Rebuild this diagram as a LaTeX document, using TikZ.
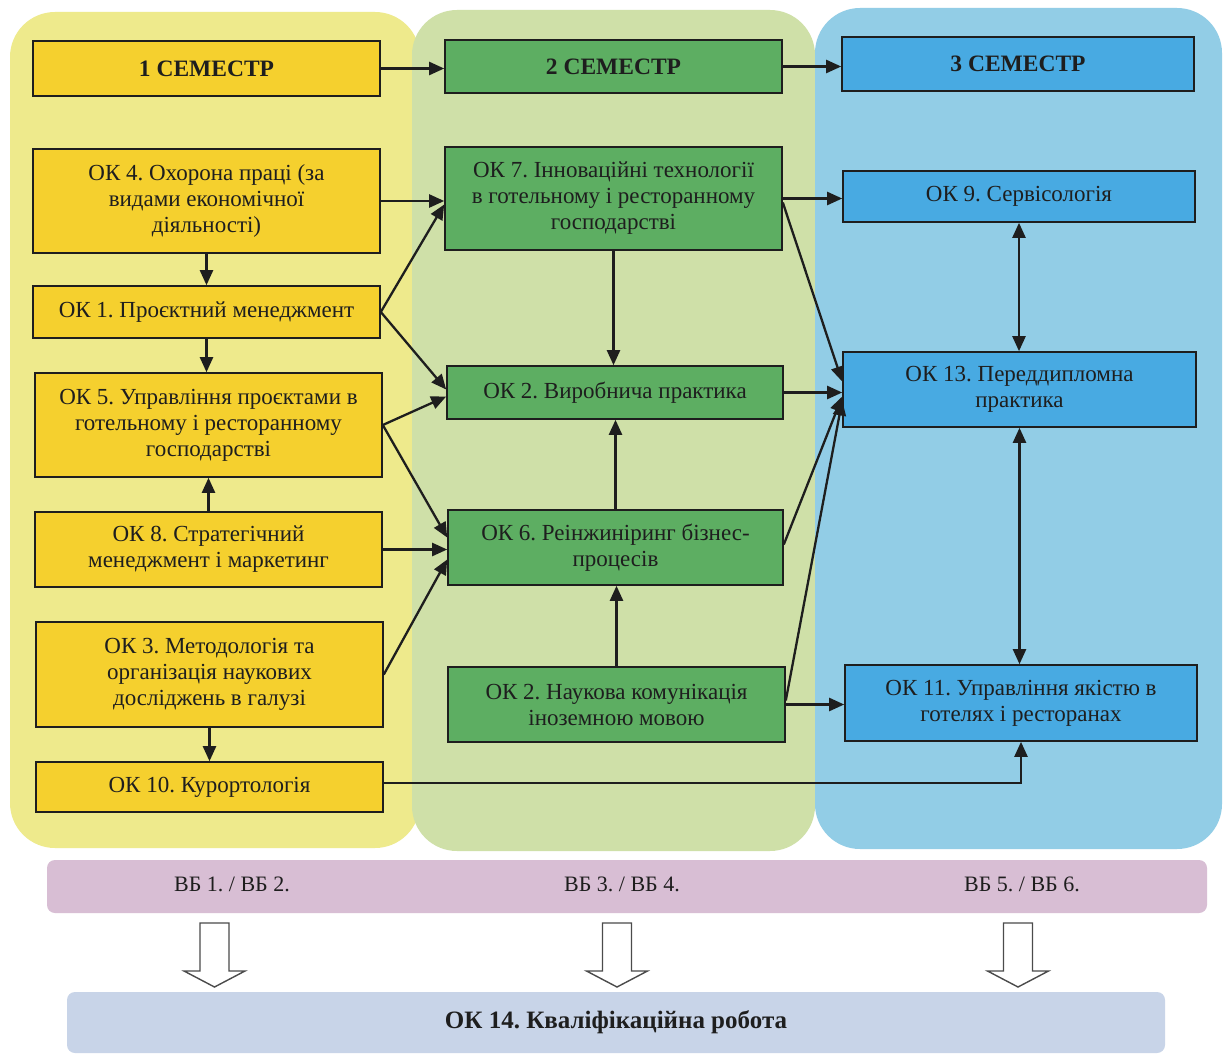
\documentclass[tikz,border=0pt]{standalone}
\usepackage{fontspec}
\setmainfont{Liberation Serif}
\usetikzlibrary{arrows.meta,calc}
\definecolor{boxyellow}{HTML}{F5D02E}
\definecolor{boxgreen}{HTML}{5DAE62}
\definecolor{boxblue}{HTML}{48AAE2}
\definecolor{panyellow}{HTML}{EEEA8C}
\definecolor{pangreen}{HTML}{CFE0A8}
\definecolor{panblue}{HTML}{92CDE6}
\definecolor{bandpurple}{HTML}{D8BED4}
\definecolor{bandblue}{HTML}{C8D4E8}
\definecolor{ink}{HTML}{1E1E1E}
\frenchspacing
\begin{document}
\begin{tikzpicture}[x=1pt,y=-1pt,
  panel/.style={rounded corners=45pt, draw=none},
  box/.style={draw=ink, line width=1.6pt, align=center, inner sep=0pt, text=ink,
    font=\fontsize{23}{26}\selectfont},
  hbox/.style={box, font=\fontsize{23.5}{26}\selectfont\bfseries},
  ybox/.style={fill=boxyellow},
  gbox/.style={fill=boxgreen},
  bbox/.style={fill=boxblue},
  con/.style={line width=2.3pt, draw=ink, -{Triangle[length=15pt,width=13pt]}},
  dcon/.style={line width=2.3pt, draw=ink, {Triangle[length=15pt,width=13pt]}-{Triangle[length=15pt,width=13pt]}},
  band/.style={rounded corners=8pt, draw=none, inner sep=0pt},
  bandtxt/.style={text=ink, font=\fontsize{22}{26}\selectfont},
  hollow/.style={draw=ink!80, line width=1.4pt, fill=white}
]
\useasboundingbox (0,0) rectangle (1232,1057);
\fill[white] (0,0) rectangle (1232,1057);
% panels
\fill[panyellow, panel] (10,12) rectangle (420,848);
\fill[pangreen, panel] (412,10) rectangle (815,851);
\fill[panblue, panel] (815,8) rectangle (1222,849);

% column 1
\node[hbox, ybox, minimum width=347pt, minimum height=55pt] (s1) at (206.5,68.5) {1 СЕМЕСТР};
\node[box, ybox, minimum width=347pt, minimum height=104pt] (ok4) at (206.5,201) {ОК 4. Охорона праці (за\\видами економічної\\діяльності)};
\node[box, ybox, minimum width=347pt, minimum height=52pt] (ok1) at (206.5,312) {ОК 1. Проєктний менеджмент};
\node[box, ybox, minimum width=347pt, minimum height=104pt] (ok5) at (208.5,425) {ОК 5. Управління проєктами в\\готельному і ресторанному\\господарстві};
\node[box, ybox, minimum width=347pt, minimum height=75pt] (ok8) at (208.5,549.5) {ОК 8. Стратегічний\\менеджмент і маркетинг};
\node[box, ybox, minimum width=347pt, minimum height=105pt] (ok3) at (209.5,674.5) {ОК 3. Методологія та\\організація наукових\\досліджень в галузі};
\node[box, ybox, minimum width=347pt, minimum height=50pt] (ok10) at (209.5,787) {ОК 10. Курортологія};

% column 2
\node[hbox, gbox, minimum width=337pt, minimum height=53pt] (s2) at (613.5,66.5) {2 СЕМЕСТР};
\node[box, gbox, minimum width=337pt, minimum height=103pt] (ok7) at (613.5,198.5) {ОК 7. Інноваційні технології\\в готельному і ресторанному\\господарстві};
\node[box, gbox, minimum width=336pt, minimum height=53pt] (ok2a) at (615,392.5) {ОК 2. Виробнича практика};
\node[box, gbox, minimum width=335pt, minimum height=75pt] (ok6) at (615.5,547.5) {ОК 6. Реінжиніринг бізнес-\\процесів};
\node[box, gbox, minimum width=337pt, minimum height=75pt] (ok2b) at (616.5,704.5) {ОК 2. Наукова комунікація\\іноземною мовою};

% column 3
\node[hbox, bbox, minimum width=352pt, minimum height=54pt] (s3) at (1018,64) {3 СЕМЕСТР};
\node[box, bbox, minimum width=352pt, minimum height=51pt] (ok9) at (1019,196.5) {ОК 9. Сервісологія};
\node[box, bbox, minimum width=353pt, minimum height=75pt] (ok13) at (1019.5,389.5) {ОК 13. Переддипломна\\практика};
\node[box, bbox, minimum width=352pt, minimum height=76pt] (ok11) at (1021,703) {ОК 11. Управління якістю в\\готелях і ресторанах};

% connectors
\draw[con] (s1.east) -- (s1.east -| s2.west);
\draw[con] (s2.east) -- (s2.east -| s3.west);
\draw[con] (ok4.south) -- (ok1.north);
\draw[con] (ok1.south) -- (ok1.south |- ok5.north);
\draw[con] (ok8.north) -- (ok8.north |- ok5.south);
\draw[con] (ok3.south) -- (ok10.north);
\draw[con] (ok4.east) -- (ok4.east -| ok7.west);
\draw[con] (ok1.east) -- ($(ok7.west)+(0,6)$);
\draw[con] (ok1.east) -- ($(ok2a.west)+(0,-3)$);
\draw[con] (ok5.east) -- ($(ok2a.west)+(0,4)$);
\draw[con] (ok5.east) -- ($(ok6.west)+(0,-10)$);
\draw[con] (ok8.east) -- (ok8.east -| ok6.west);
\draw[con] (ok3.east) -- ($(ok6.west)+(0,12)$);
\draw[con] (ok7.south) -- (ok7.south |- ok2a.north);
\draw[con] (ok6.north) -- (ok6.north |- ok2a.south);
\draw[con] (ok2b.north) -- (ok2b.north |- ok6.south);
\draw[con] (ok7.east) -- (ok7.east -| ok9.west);
\draw[con] ($(ok7.east)+(0,4)$) -- ($(ok13.west)+(0,-8)$);
\draw[con] (ok2a.east) -- (ok2a.east -| ok13.west);
\draw[con] ($(ok6.east)+(0,-3)$) -- ($(ok13.west)+(0,7)$);
\draw[con] ($(ok2b.east)+(0,-4)$) -- ($(ok13.west)+(0,11)$);
\draw[con] (ok2b.east) -- (ok2b.east -| ok11.west);
\draw[dcon] (ok9.south) -- (ok9.south |- ok13.north);
\draw[dcon] (ok13.south) -- (ok13.south |- ok11.north);
\draw[con] ($(ok10.east)+(0,-4)$) -| (ok11.south);

% bottom bands
\node[band, fill=bandpurple, minimum width=1160pt, minimum height=53pt] (vb) at (627,886.5) {};
\node[bandtxt] (vb12) at (232,884) {ВБ 1. / ВБ 2.};
\node[bandtxt] (vb34) at (622,884) {ВБ 3. / ВБ 4.};
\node[bandtxt] (vb56) at (1022,884) {ВБ 5. / ВБ 6.};
\node[band, fill=bandblue, minimum width=1098pt, minimum height=61pt, text=ink,
  font=\fontsize{25}{28}\selectfont\bfseries] (ok14) at (616,1022.5) {ОК 14. Кваліфікаційна робота};

% hollow arrows
\foreach \cx in {214.5,617,1018}{
  \draw[hollow] (\cx-14.5,923) -- (\cx+14.5,923) -- (\cx+14.5,971) -- (\cx+30.5,971)
    -- (\cx,987) -- (\cx-30.5,971) -- (\cx-14.5,971) -- cycle;
}
\end{tikzpicture}
\end{document}
